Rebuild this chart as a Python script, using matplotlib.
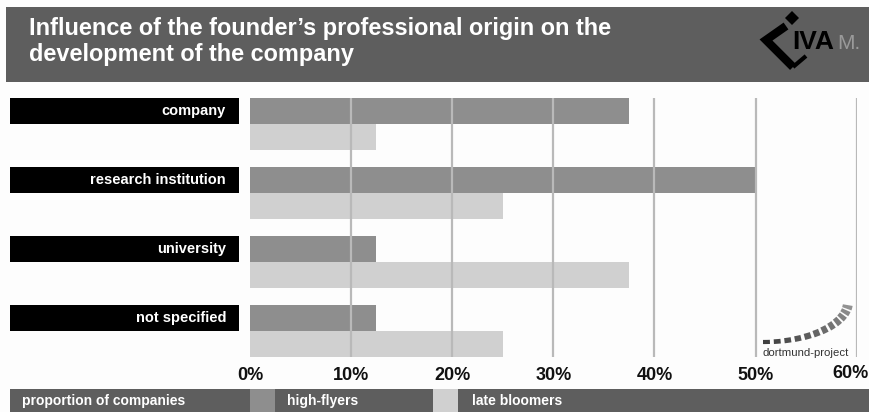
import numpy as np
import matplotlib
matplotlib.use("Agg")
import matplotlib.pyplot as plt
from matplotlib.patches import Rectangle, Polygon
from matplotlib.transforms import blended_transform_factory

# --- data -------------------------------------------------------------
categories = ["company", "research institution", "university", "not specified"]
high_flyers = [37.5, 50.0, 12.5, 12.5]      # % of companies
late_bloomers = [12.5, 25.0, 37.5, 25.0]    # % of companies
tick_values = [0, 10, 20, 30, 40, 50, 60]
tick_labels = ["0%", "10%", "20%", "30%", "40%", "50%", "60%"]
title_lines = ["Influence of the founder\u2019s professional origin on the",
               "development of the company"]
legend_title = "proportion of companies"
series_names = ["high-flyers", "late bloomers"]

# --- style ------------------------------------------------------------
W, H = 869, 412
BG = "#fdfdfd"
DARK_BAR = "#5e5e5e"
HIGH = "#8e8e8e"
LATE = "#d0d0d0"
GRID = "#b9b9b9"
FONT = ["Liberation Sans", "DejaVu Sans"]

fig = plt.figure(figsize=(W / 100, H / 100), dpi=100, facecolor=BG)

# full-figure overlay in pixel units for the frame elements
ov = fig.add_axes([0, 0, 1, 1], zorder=0)
ov.set_xlim(0, W)
ov.set_ylim(H, 0)
ov.axis("off")
ov.patch.set_alpha(0)

# title banner
ov.add_patch(Rectangle((6, 7), W - 6, 75, color=DARK_BAR, lw=0))
for k, line in enumerate(title_lines):
    ov.text(29, 35 + k * 26, line, color="white", fontsize=16.9,
            family=FONT, fontweight="bold", va="baseline", ha="left")

# IVAM mark
ov.add_patch(Polygon([(792, 11), (799, 18), (792, 25), (785, 18)],
                     closed=True, color="black", lw=0))
ov.plot([786, 766, 793], [26, 40, 67], color="black", lw=6,
        solid_joinstyle="miter", solid_capstyle="butt")
ov.plot([793, 806], [67, 56], color="black", lw=3.0, solid_capstyle="butt")
ov.text(792, 49, "IVA", color="black", fontsize=19, family=FONT,
        va="baseline", ha="left", fontweight="bold")
ov.text(837, 49, "M.", color="#9a9a9a", fontsize=15, family=FONT,
        va="baseline", ha="left")

# legend strip at the bottom
ov.add_patch(Rectangle((10, 389), W - 10, H - 389, color=DARK_BAR, lw=0))
ov.add_patch(Rectangle((250, 389), 25, H - 389, color=HIGH, lw=0))
ov.add_patch(Rectangle((433, 389), 25, H - 389, color=LATE, lw=0))
ov.text(22, 401, legend_title, color="white", fontsize=10, family=FONT,
        fontweight="bold", va="center", ha="left")
ov.text(287, 401, series_names[0], color="white", fontsize=10, family=FONT,
        fontweight="bold", va="center", ha="left")
ov.text(472, 401, series_names[1], color="white", fontsize=10, family=FONT,
        fontweight="bold", va="center", ha="left")

# --- bar area ---------------------------------------------------------
x0, x1 = 250, 856.7
y_top, y_bot = 98, 357
ax = fig.add_axes([x0 / W, 1 - y_bot / H, (x1 - x0) / W, (y_bot - y_top) / H],
                  zorder=1)
ax.patch.set_alpha(0)
ax.axis("off")
ax.set_xlim(0, 60)
bar_h = 26 / 69
n = len(categories)
ax.set_ylim(n - 1 + 2 * bar_h, 0)

idx = np.arange(n)
ax.barh(idx + bar_h / 2, high_flyers, height=bar_h * 0.98, color=HIGH,
        lw=0, zorder=2)
ax.barh(idx + 1.5 * bar_h, late_bloomers, height=bar_h * 0.98, color=LATE,
        lw=0, zorder=2)
ax.vlines(tick_values[1:], 0, n - 1 + 2 * bar_h, color=GRID, lw=1.6, zorder=3)

# category boxes, aligned with the high-flyer bars
tr_box = blended_transform_factory(ov.transData, ax.transData)
for i, cat in enumerate(categories):
    ov.add_patch(Rectangle((10, i), 229, bar_h, color="black", lw=0,
                           transform=tr_box))
    ov.text(226, i + bar_h / 2, cat, color="white", fontsize=10.5,
            fontweight="bold", family=FONT, va="center", ha="right",
            transform=tr_box)

# axis tick labels (the last one is pulled in from the right edge)
tr_tick = blended_transform_factory(ax.transData, ov.transData)
for v, lab in zip(tick_values, tick_labels):
    last = v == tick_values[-1]
    ax.text(v if not last else v + 1.2, 376 if not last else 373, lab,
            fontsize=13, fontweight="bold", family=FONT,
            color="#111111", ha="center" if not last else "right",
            va="center", transform=tr_tick, clip_on=False)

# dortmund-project mark: dashed arc with thickening strokes
t = np.linspace(0, np.pi / 2 * 0.97, 300)
cx, cy, rx, ry = 763, 302, 85, 40
px = cx + rx * np.sin(t)
py = cy + ry * np.cos(t)
seg_edges = np.linspace(0, 1, 13)
for k in range(len(seg_edges) - 1):
    a, b = seg_edges[k], seg_edges[k + 1]
    frac = a
    gap = 0.35 - 0.15 * frac
    sel = (t / t[-1] >= a) & (t / t[-1] <= a + (b - a) * (1 - gap))
    shade = 0.25 + 0.35 * frac
    ov.plot(px[sel], py[sel], color=str(shade), lw=3.0 + 4.5 * frac,
            solid_capstyle="butt")
ov.text(805.5, 353, "dortmund-project", fontsize=8.2, family=FONT,
        color="#333333", ha="center", va="center")

fig.savefig("out.png", dpi=100, facecolor=BG)
